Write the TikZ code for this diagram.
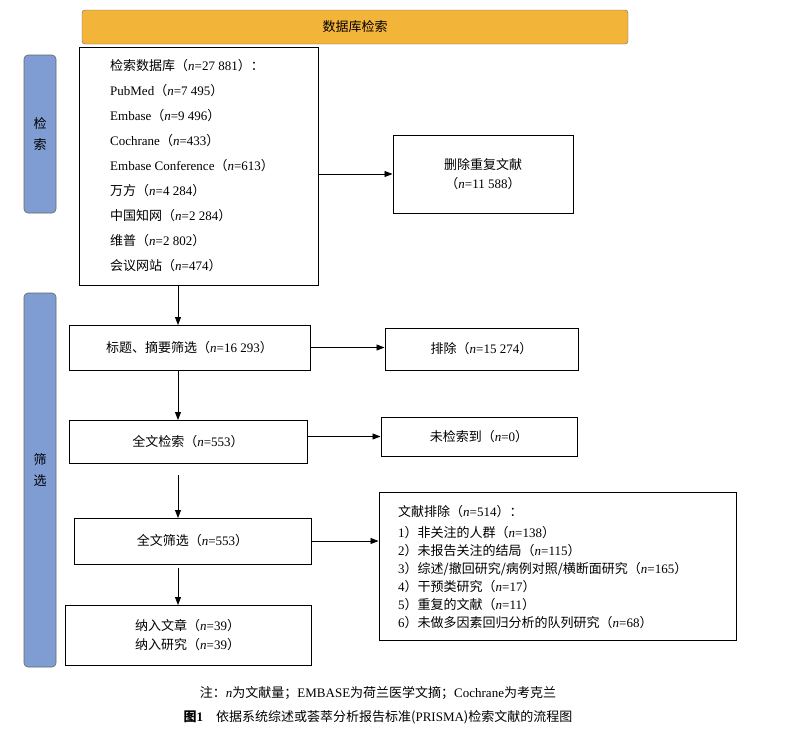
\documentclass[tikz,border=0pt]{standalone}
\usepackage{fontspec}
\setmainfont{Liberation Serif}
\newfontfamily\cjk{Noto Sans CJK SC}
\newcommand{\zh}[1]{{\cjk #1}}
\newcommand{\nn}{\textit{n}}
\usetikzlibrary{arrows.meta}
\definecolor{blueside}{HTML}{7F9DD3}
\definecolor{bannerorange}{HTML}{F3B43A}
\begin{document}
\begin{tikzpicture}[x=1pt,y=-1pt,
  box/.style={draw=black,line width=1pt,inner sep=0pt,font=\fontsize{13}{15}\selectfont},
  arr/.style={-{Triangle[length=8pt,width=6pt]},line width=0.8pt},
  txt/.style={font=\fontsize{13}{15}\selectfont,inner sep=0pt},
  side/.style={draw=black!60,fill=blueside,rounded corners=4pt,line width=0.6pt}]
\useasboundingbox (0,0) rectangle (804,729);
% banner
\draw[draw=black!60,fill=bannerorange,rounded corners=3pt] (82,10) rectangle (628,44);
\node[txt] (banner) at (355,27) {\zh{数据库检索}};
% side bars
\draw[side] (24,55) rectangle (56,213);
\node[txt,align=center] (s1) at (40,134) {\zh{检}\\[6pt]\zh{索}};
\draw[side] (24,293) rectangle (56,667);
\node[txt,align=center] (s2) at (40,470) {\zh{筛}\\[6pt]\zh{选}};
% box1
\node[box,minimum width=239pt,minimum height=238pt] (b1) at (198.5,166) {};
\foreach \t [count=\i] in {
 {\zh{检索数据库（}\nn=27 881\zh{）：}},
 {PubMed\zh{（}\nn=7 495\zh{）}},
 {Embase\zh{（}\nn=9 496\zh{）}},
 {Cochrane\zh{（}\nn=433\zh{）}},
 {Embase Conference\zh{（}\nn=613\zh{）}},
 {\zh{万方（}\nn=4 284\zh{）}},
 {\zh{中国知网（}\nn=2 284\zh{）}},
 {\zh{维普（}\nn=2 802\zh{）}},
 {\zh{会议网站（}\nn=474\zh{）}}}
 \node[txt,anchor=west] (l\i) at (110,41+25*\i) {\t};
\node[box,minimum width=180pt,minimum height=78pt] (dup) at (483,174) {};
\node[txt,align=center] (dupt) at (483,174) {\zh{删除重复文献}\\[4pt]\zh{（}\nn=11 588\zh{）}};
\draw[arr] (b1.east|-dup) -- (dup.west);
% box2
\node[box,minimum width=241pt,minimum height=45pt] (b2) at (189.5,347.5) {\zh{标题、摘要筛选（}\nn=16 293\zh{）}};
\node[box,minimum width=193pt,minimum height=42pt] (e2) at (481.5,349) {\zh{排除（}\nn=15 274\zh{）}};
\draw[arr] (178,285) -- (178,325);
\draw[arr] (b2.east) -- (e2.west|-b2.east);
% box3
\node[box,minimum width=238pt,minimum height=43pt] (b3) at (188,441.5) {\zh{全文检索（}\nn=553\zh{）}};
\node[box,minimum width=196pt,minimum height=39pt] (e3) at (479,436.5) {\zh{未检索到（}\nn=0\zh{）}};
\draw[arr] (178,370) -- (178,420);
\draw[arr] (b3.east|-e3) -- (e3.west);
% box4
\node[box,minimum width=237pt,minimum height=46pt] (b4) at (192.5,541) {\zh{全文筛选（}\nn=553\zh{）}};
\node[box,minimum width=357pt,minimum height=148pt] (e4) at (557.5,566) {};
\node[txt,anchor=west] (m1) at (398,512) {\zh{文献排除（}\nn=514\zh{）：}};
\foreach \t [count=\i] in {
 {1\zh{）非关注的人群（}\nn=138\zh{）}},
 {2\zh{）未报告关注的结局（}\nn=115\zh{）}},
 {3\zh{）综述/撤回研究/病例对照/横断面研究（}\nn=165\zh{）}},
 {4\zh{）干预类研究（}\nn=17\zh{）}},
 {5\zh{）重复的文献（}\nn=11\zh{）}},
 {6\zh{）未做多因素回归分析的队列研究（}\nn=68\zh{）}}}
 \node[txt,anchor=west] (m\i x) at (398,515+18*\i) {\t};
\draw[arr] (178,475) -- (178,518);
\draw[arr] (b4.east) -- (e4.west|-b4.east);
% box5
\node[box,minimum width=246pt,minimum height=60pt] (b5) at (188,635) {};
\node[txt,align=left,anchor=west] (b5t) at (135,635) {\zh{纳入文章（}\nn=39\zh{）}\\[4pt]\zh{纳入研究（}\nn=39\zh{）}};
\draw[arr] (178,568) -- (178,605);
% caption
\node[txt] (note) at (378,693) {\zh{注：}\nn\zh{为文献量；}EMBASE\zh{为荷兰医学文摘；}Cochrane\zh{为考克兰}};
\node[txt] (cap) at (378,717) {\textbf{\zh{图}1}\quad\zh{依据系统综述或荟萃分析报告标准(}PRISMA\zh{)检索文献的流程图}};
\end{tikzpicture}
\end{document}
